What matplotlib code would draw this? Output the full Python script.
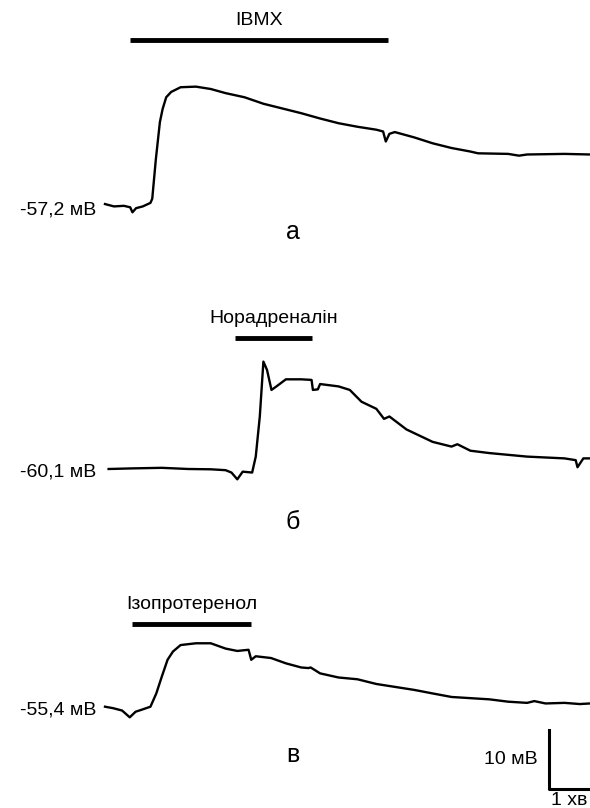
import matplotlib
matplotlib.use('Agg')
import matplotlib.pyplot as plt

# time in minutes from trace start, depolarisation in mV from resting level
ibmx_t = [0.0, 0.2, 0.42, 0.56, 0.61, 0.69, 0.84, 1.01, 1.05, 1.13, 1.22, 1.28, 1.36, 1.47,
          1.68, 2.02, 2.35, 2.68, 3.10, 3.52, 3.94, 4.36, 4.78, 5.19, 5.61, 6.03, 6.18,
          6.24, 6.32, 6.44, 6.87, 7.28, 7.70, 8.12, 8.29, 8.96, 9.20, 9.38, 10.21, 10.78]
ibmx_v = [0.5, 0.1, 0.2, -0.05, -0.9, -0.2, 0.1, 0.7, 1.4, 8.1, 14.4, 16.6, 18.6, 19.5,
          20.3, 20.4, 20.0, 19.3, 18.6, 17.5, 16.7, 15.9, 15.0, 14.2, 13.6, 13.1, 12.8,
          11.1, 12.4, 12.7, 11.8, 10.8, 10.0, 9.4, 9.1, 9.0, 8.7, 8.9, 9.0, 8.9]

na_t = [0.08, 0.59, 1.26, 1.85, 2.35, 2.68, 2.81, 2.94, 3.06, 3.27, 3.35, 3.44, 3.52,
        3.60, 3.70, 3.81, 4.02, 4.36, 4.59, 4.62, 4.73, 4.78, 5.19, 5.44, 5.70, 6.03,
        6.20, 6.32, 6.70, 7.28, 7.70, 7.83, 8.12, 8.54, 9.38, 10.21, 10.46, 10.50, 10.63, 10.78]
na_v = [0.0, 0.1, 0.2, 0.0, -0.05, -0.2, -0.6, -1.75, -0.45, -0.6, 2.1, 8.9, 18.2,
        16.8, 13.4, 14.0, 15.2, 15.2, 15.1, 13.4, 13.5, 14.4, 14.0, 13.4, 11.4, 10.2,
        8.5, 8.9, 6.7, 4.6, 3.8, 4.2, 3.1, 2.7, 2.1, 1.8, 1.5, 0.3, 1.8, 1.8]

iso_t = [0.0, 0.18, 0.38, 0.55, 0.68, 0.80, 1.01, 1.14, 1.26, 1.39, 1.51, 1.68, 2.02,
         2.35, 2.68, 2.94, 3.19, 3.25, 3.35, 3.69, 4.02, 4.36, 4.52, 4.57, 4.78, 5.19,
         5.61, 6.03, 6.45, 6.87, 7.28, 7.70, 8.12, 8.54, 8.96, 9.38, 9.54, 9.79, 10.21,
         10.55, 10.78]
iso_v = [0.05, -0.2, -0.6, -1.75, -0.8, -0.5, 0.05, 2.3, 5.1, 8.0, 9.4, 10.5, 10.8,
         10.8, 9.9, 9.5, 9.7, 8.0, 8.6, 8.3, 7.4, 6.7, 6.6, 6.7, 5.7, 5.0,
         4.7, 3.9, 3.4, 2.9, 2.3, 1.7, 1.5, 1.3, 0.9, 0.7, 1.0, 0.6, 0.7, 0.5, 0.6]

drugs = ['IBMX', 'Норадреналін', 'Ізопротеренол']
drug_on = [(0.56, 6.29), (2.89, 4.60), (0.60, 3.24)]
rest = ['-57,2 мВ', '-60,1 мВ', '-55,4 мВ']
panels = ['а', 'б', 'в']

PX_MIN = 45.0   # pixels per minute
PX_MV = 5.9     # pixels per mV
X0 = 105        # pixel where traces start

def px(x, y):
    return (x - X0) / PX_MIN, -y / PX_MV

plt.rcParams['font.family'] = ['Liberation Sans', 'DejaVu Sans']
fig = plt.figure(figsize=(5.9, 8.08), dpi=100)
ax = fig.add_axes([0, 0, 1, 1])
ax.set_xlim(px(0, 0)[0], px(590, 0)[0])
ax.set_ylim(-808 / PX_MV, 0)
ax.axis('off')

traces = [(ibmx_t, ibmx_v), (na_t, na_v), (iso_t, iso_v)]
base_y = [207, 469, 707]
bar_y = [40, 338, 624]
letter_y = [232, 522, 755]

for i, (t, v) in enumerate(traces):
    b = px(0, base_y[i])[1]
    ax.plot(t, [b + val for val in v], color='black', lw=1.7)
    ax.text(px(96, 0)[0], b - 3 / PX_MV, rest[i], ha='right', va='center', fontsize=14)
    yb = px(0, bar_y[i])[1]
    ax.plot(drug_on[i], [yb, yb], color='black', lw=3.5, solid_capstyle='butt')
    ax.text(sum(drug_on[i]) / 2, yb + 11 / PX_MV, drugs[i], ha='center', va='bottom', fontsize=14)
    ax.text(px(293, 0)[0], px(0, letter_y[i])[1], panels[i], ha='center', va='center', fontsize=18)

# scale bar: 10 mV, 1 min
sx, sy = px(549, 789)
ax.plot([sx, sx, sx + 1], [sy + 10, sy, sy], color='black', lw=2.2)
ax.text(sx - 11 / PX_MIN, sy + 5, '10 мВ', ha='right', va='center', fontsize=14)
ax.text(sx + 0.45, sy - 3 / PX_MV, '1 хв', ha='center', va='top', fontsize=14)

fig.savefig('out.png', dpi=100)
